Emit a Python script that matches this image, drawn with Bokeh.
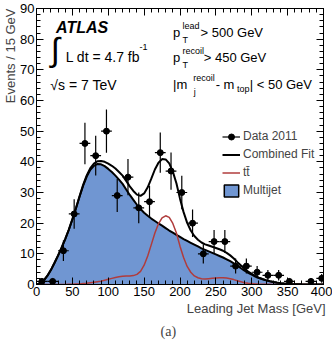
from math import pi

import numpy as np
from bokeh.embed import file_html
from bokeh.models import (ColumnDataSource, CustomJSTickFormatter, Label, Legend,
                          LegendItem, LinearAxis, Range1d, SingleIntervalTicker,
                          Title)
from bokeh.plotting import figure
from bokeh.resources import INLINE

# ---- data: leading-jet mass, 15 GeV bins ----
bin_centers = [7.5, 22.5, 37.5, 52.5, 67.5, 82.5, 97.5, 112.5, 127.5,
               142.5, 157.5, 172.5, 187.5, 202.5, 217.5, 232.5, 247.5,
               262.5, 277.5, 292.5, 307.5, 322.5, 337.5, 352.5, 367.5,
               382.5, 397.5]
data_counts = [1, 1, 11, 23, 46, 42, 50, 29, 35,
               25, 27, 43, 37, 30, 20, 10, 14,
               14, 6, 6, 4, 3, 3, 1, 0,
               1, 2]
bin_half_width = 7.5

# ---- fit templates, sampled every 5 GeV ----
fit_mass = list(range(0, 405, 5))
multijet_fit = [
    0.0, 0.4, 1.3, 2.8, 4.7, 7.0, 9.4, 12.0, 14.8, 17.8,
    21.2, 24.8, 28.6, 32.2, 35.2, 37.4, 38.7, 39.3, 39.2, 38.6,
    37.7, 36.7, 35.5, 34.2, 32.8, 31.0, 29.2, 27.6, 26.0, 24.6,
    23.4, 22.4, 21.5, 20.7, 19.9, 19.2, 18.4, 17.6, 16.9, 16.2,
    15.5, 14.8, 14.2, 13.6, 13.0, 12.4, 11.8, 11.3, 10.8, 10.3,
    9.8, 9.3, 8.8, 8.2, 7.6, 6.9, 6.1, 5.3, 4.5, 3.8,
    3.2, 2.6, 2.1, 1.7, 1.35, 1.05, 0.8, 0.6, 0.45, 0.33,
    0.24, 0.17, 0.12, 0.08, 0.05, 0.03, 0.02, 0.01, 0.01, 0.0,
    0.0,
]
ttbar_fit = [
    0.0, 0.0, 0.0, 0.0, 0.0, 0.0, 0.0, 0.0, 0.0, 0.05,
    0.1, 0.15, 0.2, 0.3, 0.4, 0.55, 0.7, 0.9, 1.1, 1.4,
    1.7, 2.0, 2.3, 2.5, 2.7, 2.8, 2.8, 2.9, 3.3, 4.3,
    6.3, 9.3, 13.0, 16.8, 19.8, 21.7, 22.4, 21.9, 19.9, 16.8,
    12.5, 8.8, 5.9, 4.0, 2.8, 2.2, 1.9, 1.8, 1.9, 2.0,
    2.1, 2.2, 2.2, 2.1, 1.9, 1.6, 1.2, 0.9, 0.6, 0.4,
    0.3, 0.2, 0.15, 0.1, 0.07, 0.05, 0.03, 0.02, 0.0, 0.0,
    0.0, 0.0, 0.0, 0.0, 0.0, 0.0, 0.0, 0.0, 0.0, 0.0,
    0.0,
]

x_ticks_step = 50
y_ticks_step = 10

FONT = "Liberation Sans"
MULTIJET_BLUE = "#7096d2"
TTBAR_RED = "#b03c3c"

mass = np.array(fit_mass, dtype=float)
mj = np.array(multijet_fit)
tt = np.array(ttbar_fit)
fit_src = ColumnDataSource(dict(x=mass, mj=mj, tt=tt, total=mj + tt,
                                base=np.zeros_like(mass)))

cnt = np.array(data_counts, dtype=float)
ctr = np.array(bin_centers)
keep = cnt > 0
err = np.sqrt(cnt[keep])
data_src = ColumnDataSource(dict(
    x=ctr[keep], y=cnt[keep],
    xlo=ctr[keep] - bin_half_width, xhi=ctr[keep] + bin_half_width,
    ylo=cnt[keep] - err, yhi=cnt[keep] + err))

p = figure(width=332, height=344, output_backend="svg", toolbar_location=None,
           x_range=Range1d(0, 400), y_range=Range1d(0, 90),
           min_border_left=33, min_border_right=9, min_border_top=8,
           min_border_bottom=20, background_fill_color="white",
           border_fill_color="white")
p.xgrid.visible = False
p.ygrid.visible = False
p.outline_line_color = "black"
p.outline_line_width = 1

# multijet template (filled) and its outline
p.varea(x="x", y1="base", y2="mj", source=fit_src, fill_color=MULTIJET_BLUE)
mj_line = p.line("x", "mj", source=fit_src, line_color="black", line_width=2)
tt_line = p.line("x", "tt", source=fit_src, line_color=TTBAR_RED, line_width=1.5)
tot_line = p.line("x", "total", source=fit_src, line_color="black", line_width=2)

# data with error bars
p.segment(x0="xlo", y0="y", x1="xhi", y1="y", source=data_src,
          line_color="black", line_width=1.2)
p.segment(x0="x", y0="ylo", x1="x", y1="yhi", source=data_src,
          line_color="black", line_width=1.2)
pts = p.scatter("x", "y", source=data_src, size=6, marker="circle",
                fill_color="black", line_color="black")

# axes: ticks inside, mirrored on top and right
def style_axis(ax, step, show_labels=True):
    ax.ticker = SingleIntervalTicker(interval=step, num_minor_ticks=5)
    ax.major_tick_in = 7
    ax.major_tick_out = 0
    ax.minor_tick_in = 4
    ax.minor_tick_out = 0
    ax.major_tick_line_color = "black"
    ax.minor_tick_line_color = "black"
    ax.axis_line_color = "black"
    ax.major_label_standoff = 2
    if show_labels:
        ax.major_label_text_font = FONT
        ax.major_label_text_font_size = "13px"
        ax.major_label_text_color = "black"
    else:
        ax.formatter = CustomJSTickFormatter(code="return ''")
        ax.major_label_standoff = 0

style_axis(p.xaxis[0], x_ticks_step)
style_axis(p.yaxis[0], y_ticks_step)
top_ax = LinearAxis()
right_ax = LinearAxis()
style_axis(top_ax, x_ticks_step, show_labels=False)
style_axis(right_ax, y_ticks_step, show_labels=False)
p.add_layout(top_ax, "above")
p.add_layout(right_ax, "right")

# axis titles, placed at the far ends of the axes
p.add_layout(Title(text="Events / 15 GeV", align="right", text_font=FONT,
                   text_font_size="13px", text_font_style="normal",
                   standoff=0, offset=0), "left")
p.add_layout(Title(text="Leading Jet Mass [GeV]", align="right", text_font=FONT,
                   text_font_size="13px", text_font_style="normal",
                   standoff=0, offset=-2), "below")
p.add_layout(Title(text="(a)", align="left", text_font="Liberation Serif",
                   text_font_size="14px", text_font_style="normal",
                   standoff=12, offset=124), "below")

def txt(x, y, s, size="13px", style="normal", align="left", baseline="alphabetic"):
    p.add_layout(Label(x=x, y=y, text=s, text_font=FONT, text_font_size=size,
                       text_font_style=style, text_align=align,
                       text_baseline=baseline, text_color="black"))

# ATLAS label block
txt(27.2, 83.7, "ATLAS", size="16px", style="bold italic")
txt(26.2, 76.6, "\u222b", size="33px", align="center", baseline="middle")
txt(40.7, 74.1, "L dt = 4.7 fb", size="14px")
txt(143.4, 77.6, "-1", size="9px")
txt(19.3, 65.2, "\u221as = 7 TeV", size="14px")

# selection cuts
txt(190.3, 82.1, "p")
txt(203.4, 84.2, "lead", size="9px")
txt(203.4, 79.6, "T", size="9px")
txt(228.6, 82.1, "> 500 GeV")

txt(190.3, 74.1, "p")
txt(203.4, 76.3, "recoil", size="9px")
txt(203.4, 71.7, "T", size="9px")
txt(233.1, 74.1, "> 450 GeV")

txt(190.3, 65.2, "|m")
txt(218.6, 67.5, "recoil", size="9px")
txt(219.3, 62.9, "j", size="9px")
txt(249.7, 65.2, "- m")
txt(279.3, 63.6, "top", size="9px")
txt(297.2, 65.2, "| < 50 GeV")

# legend-only glyphs (no visible points)
data_line = p.line([np.nan], [np.nan], line_color="black", line_width=1.2)
mj_box = p.quad(left=[np.nan], right=[np.nan], top=[np.nan], bottom=[np.nan],
                fill_color=MULTIJET_BLUE, line_color="black", line_width=1.5)
legend = Legend(items=[
    LegendItem(label="Data 2011", renderers=[data_line, pts]),
    LegendItem(label="Combined Fit", renderers=[tot_line]),
    LegendItem(label="t\u0074\u0304", renderers=[tt_line]),
    LegendItem(label="Multijet", renderers=[mj_box]),
], location=(186, 86.5), orientation="vertical")
legend.label_text_font = FONT
legend.label_text_font_size = "12px"
legend.label_height = 15
legend.glyph_height = 15
legend.glyph_width = 18
legend.label_standoff = 3
legend.spacing = 3
legend.padding = 0
legend.margin = 0
legend.border_line_alpha = 0
legend.background_fill_alpha = 0
p.add_layout(legend, "center")

open("out.html", "w").write(file_html(p, INLINE))
